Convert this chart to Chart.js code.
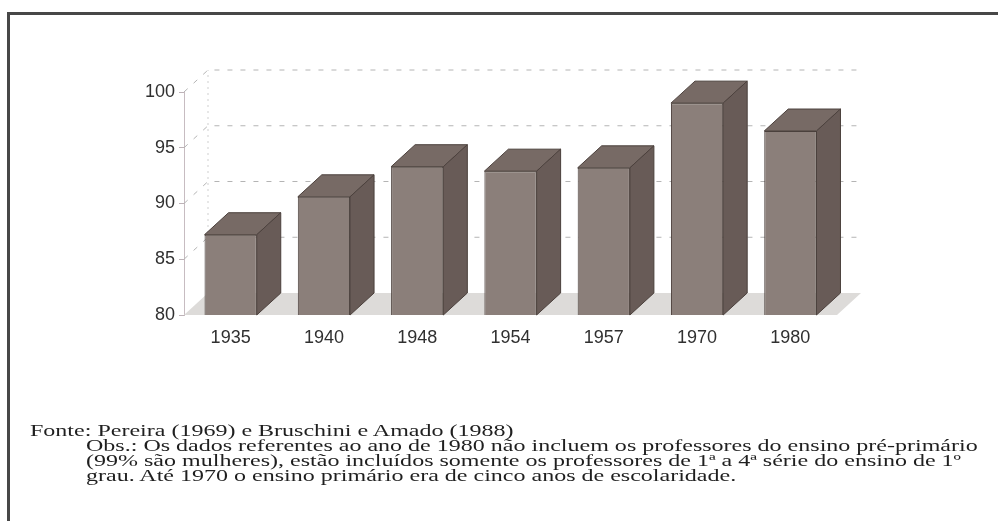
<!doctype html>
<html lang="pt">
<head>
  <meta charset="utf-8">
  <title>Professores do ensino primário - mulheres (%)</title>
  <style>
    * { margin: 0; padding: 0; }
    body { width: 998px; height: 521px; background: white; overflow: hidden; position: relative; }
    .frame {
      position: absolute; left: 7px; top: 12px; right: 0; bottom: 0;
      border-top: 3px solid #474747;
      border-left: 3px solid #474747;
    }
    .chartBox { position: absolute; left: 0; top: 0; width: 998px; height: 521px; }
    .note {
      position: absolute; left: 0; top: 423px;
      font-family: "Liberation Serif", "DejaVu Serif", serif;
      font-size: 16px; line-height: 15px; color: #1f1f1f;
    }
    .note div { white-space: nowrap; transform-origin: 0 0; }
  </style>
</head>
<body>
<div class="frame"></div>
<div class="chartBox">
  <canvas id="myChart" width="998" height="521"></canvas>
</div>
<div class="note" id="note">
  <div data-x="30">Fonte: Pereira (1969) e Bruschini e Amado (1988)</div>
  <div data-x="86">Obs.: Os dados referentes ao ano de 1980 não incluem os professores do ensino pré-primário</div>
  <div data-x="86">(99% são mulheres), estão incluídos somente os professores de 1ª a 4ª série do ensino de 1º</div>
  <div data-x="86">grau. Até 1970 o ensino primário era de cinco anos de escolaridade.</div>
</div>

<script src="https://cdn.jsdelivr.net/npm/chart.js"></script>
<script>
  // data
  const years = ['1935', '1940', '1948', '1954', '1957', '1970', '1980'];
  const womenShare = [87.2, 90.6, 93.3, 92.9, 93.2, 99.0, 96.5];
  const yTicks = [80, 85, 90, 95, 100];

  // 3d look: depth offset of the boxes
  const DX = 24;
  const DY = -22;

  const threeD = {
    id: 'threeD',
    beforeDatasetsDraw(chart) {
      const { ctx, chartArea: a, scales: { y } } = chart;
      const base = y.getPixelForValue(80);
      ctx.save();
      // floor
      ctx.fillStyle = '#dddbd9';
      ctx.beginPath();
      ctx.moveTo(a.left, base);
      ctx.lineTo(a.right, base);
      ctx.lineTo(a.right + DX, base + DY);
      ctx.lineTo(a.left + DX, base + DY);
      ctx.closePath();
      ctx.fill();
      // back wall edge
      ctx.strokeStyle = '#cfcfcf';
      ctx.lineWidth = 1;
      ctx.setLineDash([2, 4]);
      ctx.beginPath();
      ctx.moveTo(a.left + DX, base + DY);
      ctx.lineTo(a.left + DX, y.getPixelForValue(100) + DY);
      ctx.stroke();
      // dashed grid on the back wall
      ctx.strokeStyle = '#b4b4b4';
      ctx.setLineDash([5, 8]);
      yTicks.slice(1).forEach(v => {
        const py = y.getPixelForValue(v);
        ctx.beginPath();
        ctx.moveTo(a.left, py);
        ctx.lineTo(a.left + DX, py + DY);
        ctx.lineTo(a.right + DX, py + DY);
        ctx.stroke();
      });
      ctx.restore();
    },
    afterDatasetsDraw(chart) {
      const { ctx, scales: { y } } = chart;
      const meta = chart.getDatasetMeta(0);
      const base = y.getPixelForValue(80);
      ctx.save();
      ctx.strokeStyle = '#4b403c';
      ctx.lineWidth = 1;
      meta.data.forEach(bar => {
        const p = bar.getProps(['x', 'y', 'width'], true);
        const l = p.x - p.width / 2;
        const r = p.x + p.width / 2;
        // top face
        ctx.fillStyle = '#776a65';
        ctx.beginPath();
        ctx.moveTo(l, p.y);
        ctx.lineTo(l + DX, p.y + DY);
        ctx.lineTo(r + DX, p.y + DY);
        ctx.lineTo(r, p.y);
        ctx.closePath();
        ctx.fill();
        ctx.stroke();
        // side face
        ctx.fillStyle = '#685b57';
        ctx.beginPath();
        ctx.moveTo(r, p.y);
        ctx.lineTo(r + DX, p.y + DY);
        ctx.lineTo(r + DX, base + DY);
        ctx.lineTo(r, base);
        ctx.closePath();
        ctx.fill();
        ctx.stroke();
      });
      ctx.restore();
    }
  };

  const data = {
    labels: years,
    datasets: [{
      data: womenShare,
      backgroundColor: '#8b7f7a',
      borderColor: '#4b403c',
      borderWidth: 1,
      barPercentage: 0.56,
      categoryPercentage: 1
    }]
  };

  const config = {
    type: 'bar',
    data,
    options: {
      responsive: false,
      animation: false,
      layout: {
        padding: { left: 124, top: 92, right: 161, bottom: 166 }
      },
      scales: {
        x: {
          afterFit: (scale) => { scale.height = 40; },
          grid: { display: false },
          border: { display: false },
          ticks: {
            padding: 4,
            color: '#303030',
            font: { family: '"Liberation Sans", Arial, sans-serif', size: 18 }
          }
        },
        y: {
          min: 80,
          max: 100,
          afterFit: (scale) => { scale.width = 60; },
          afterBuildTicks: (scale) => { scale.ticks = yTicks.map(v => ({ value: v })); },
          grid: {
            display: true,
            drawOnChartArea: false,
            drawTicks: true,
            tickLength: 5,
            color: '#bdb2b7'
          },
          border: { display: true, color: '#c7bcc1' },
          ticks: {
            padding: 4,
            color: '#303030',
            font: { family: '"Liberation Sans", Arial, sans-serif', size: 18 }
          }
        }
      },
      plugins: {
        legend: { display: false },
        tooltip: { enabled: false }
      }
    },
    plugins: [threeD]
  };

  const myChart = new Chart(document.getElementById('myChart'), config);

  // the scan's footnote is set wide: one horizontal stretch for all lines,
  // taken from the last line (which ends near x = 736)
  const lines = [...document.querySelectorAll('#note div')];
  const widthOf = el => {
    const range = document.createRange();
    range.selectNodeContents(el);
    return range.getBoundingClientRect().width;
  };
  const last = lines[lines.length - 1];
  const stretch = (736 - (+last.dataset.x)) / widthOf(last);
  lines.forEach(el => {
    el.style.transform = 'translateX(' + el.dataset.x + 'px) scaleX(' + stretch.toFixed(3) + ')';
  });
</script>
</body>
</html>
